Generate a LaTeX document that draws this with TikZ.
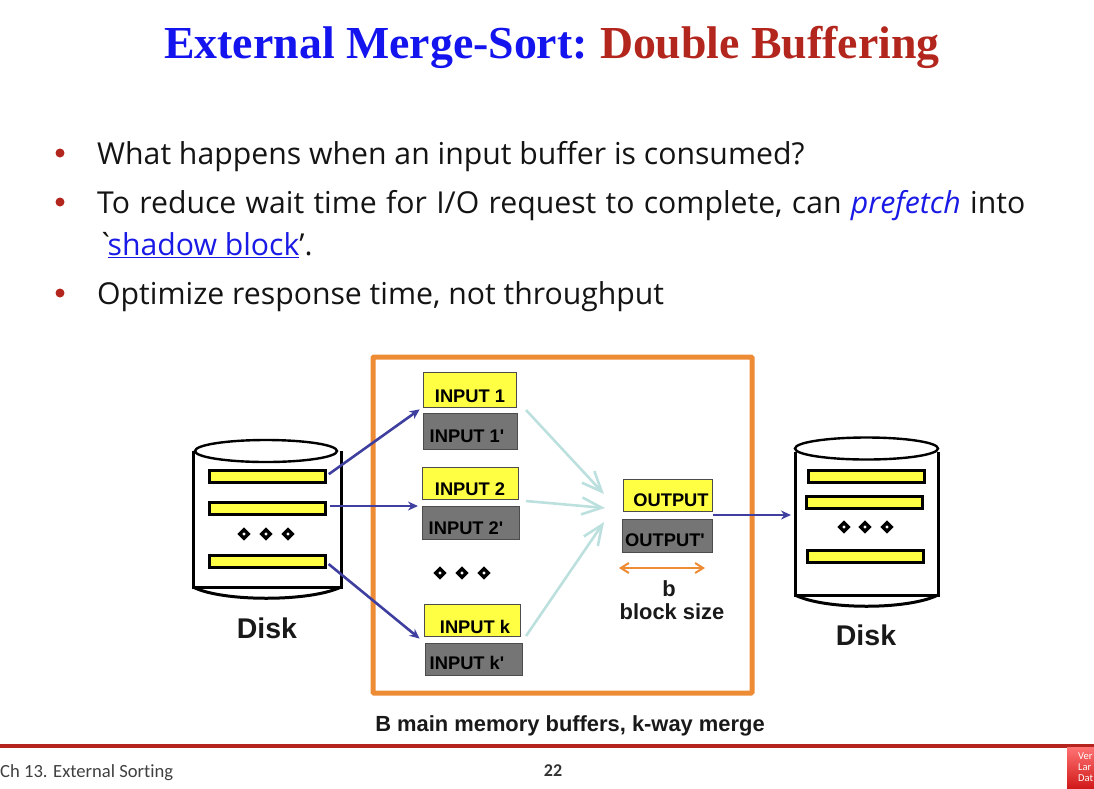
\documentclass[tikz,border=0pt]{standalone}
\usepackage{fontspec}
\setmainfont{Liberation Sans}
\newfontfamily\labelfont{Liberation Sans}
\newfontfamily\titlefont{Liberation Serif}
\newfontfamily\bodyfont{Open Sans}
\newfontfamily\footfont[Ligatures=NoCommon]{Carlito}
\usetikzlibrary{arrows.meta,positioning,shapes.geometric}
\definecolor{titleblue}{HTML}{1414EE}
\definecolor{titlered}{HTML}{B3261E}
\definecolor{linkblue}{HTML}{1A1AE6}
\definecolor{framecolor}{HTML}{EE8B35}
\definecolor{arrowblue}{HTML}{3F3FA0}
\definecolor{arrowteal}{HTML}{BCE0DE}
\definecolor{baryellow}{HTML}{FFFF44}
\definecolor{boxgray}{HTML}{757575}
\definecolor{rulered}{HTML}{B5241F}
\tikzset{
  slidetext/.style={anchor=base west,inner sep=0,font=\bodyfont\fontsize{30.2}{36}\selectfont,text=black!92},
  bulletdot/.style={circle,fill=titlered,inner sep=0,minimum size=9},
  bufbox/.style={draw=black!70,line width=0.9,inner sep=0,outer sep=0},
  boxlabel/.style={inner sep=0,font=\labelfont\bfseries\fontsize{18.3}{20}\selectfont,text=black},
  diskbar/.style={draw=black,line width=3,fill=baryellow,inner sep=0,outer sep=0,minimum width=116,minimum height=12},
  diskline/.style={line width=3,black},
  gapdot/.style={diamond,draw=black,fill=white,line width=3.4,inner sep=0,minimum size=10},
  readarrow/.style={-{Stealth[length=10,width=9]},line width=2.6,arrowblue,shorten >=4,shorten <=4},
  mergearrow/.style={-{Straight Barb[length=20,width=17,line width=2.6]},line width=2.6,arrowteal},
  biglabel/.style={inner sep=0,font=\labelfont\bfseries\fontsize{28.5}{30}\selectfont,text=black!90},
  notelabel/.style={inner sep=0,font=\labelfont\bfseries\fontsize{21.9}{24}\selectfont,text=black!90}
}
\begin{document}
\begin{tikzpicture}[x=1pt,y=-1pt]
  \useasboundingbox (0,0) rectangle (1094,788);
  \node[anchor=base,inner sep=0,font=\titlefont\bfseries\fontsize{45.8}{48}\selectfont] (title) at (552,58)
    {\textcolor{titleblue}{External Merge-Sort:}\kern-3pt{} \textcolor{titlered}{Double Buffering}};

  \node[bulletdot] (dot1) at (60,153) {};
  \node[bulletdot] (dot2) at (60,202) {};
  \node[bulletdot] (dot3) at (60,293) {};
  \node[slidetext] (line1) at (97,164) {What happens when an input buffer is consumed?};
  \node[slidetext] (line2) at (97,213) {\spaceskip=9.3pt To reduce wait time for I/O request to complete, can \textcolor{linkblue}{\itshape prefetch} into};
  \node[slidetext] (line3) at (97,255) {\symbol{96}\kern-7pt\textcolor{linkblue}{\underline{shadow block}}’.};
  \node[slidetext] (line4) at (97,304) {Optimize response time, not throughput};

  \node[draw=framecolor,line width=5,rounded corners=1,inner sep=0,minimum width=379,minimum height=336] (memory) at (562.5,525) {};

  \foreach \name/\cx/\cy/\w/\h/\fillc/\tx/\ty/\txt in {
    input1/469.5/389.5/93/35/baryellow/470/396/INPUT 1,
    input1p/470/431/94/36/boxgray/467/436/INPUT 1',
    input2/470/483/96/32/baryellow/470/489/INPUT 2,
    input2p/470.5/522.5/97/33/boxgray/466/528/INPUT 2',
    inputk/472/620/96/32/baryellow/475/627/INPUT k,
    inputkp/473.5/659/97/32/boxgray/467/663/INPUT k',
    output/667.5/495/89/32/baryellow/671/500/OUTPUT,
    outputp/667/535.5/90/33/boxgray/665/540/OUTPUT'} {
    \node[bufbox,fill=\fillc,minimum width=\w,minimum height=\h] (\name) at (\cx,\cy) {};
    \node[boxlabel] (\name text) at (\tx,\ty) {\txt};
  }

  \node[gapdot] (gapa) at (440,573) {};
  \node[gapdot] (gapb) at (462,573) {};
  \node[gapdot] (gapc) at (484,573) {};

  \draw[diskline] (193,451) -- (193,587) -- (341,587) -- (341,451);
  \node[ellipse,draw=black,line width=2.4,fill=white,minimum width=142,minimum height=22,inner sep=0] (disktop) at (266,451) {};
  \draw[diskline] (193,587) .. controls (222,602) and (310,602) .. (341,587);
  \node[diskbar] (barone) at (267.5,476.5) {};
  \node[diskbar] (bartwo) at (267.5,508.5) {};
  \node[diskbar] (barthree) at (267.5,561.5) {};
  \node[gapdot] (diskgapa) at (244,534) {};
  \node[gapdot] (diskgapb) at (266,534) {};
  \node[gapdot] (diskgapc) at (288,534) {};
  \node[biglabel] (disklabel) at (267,628) {Disk};

  \draw[diskline] (795,452) -- (795,595) -- (938,595) -- (938,452);
  \node[ellipse,draw=black,line width=2.4,fill=white,minimum width=143,minimum height=22,inner sep=0] (outdisktop) at (866.5,448.5) {};
  \draw[diskline] (795,595) .. controls (825,610) and (908,610) .. (938,595);
  \node[diskbar] (outbarone) at (866,476.5) {};
  \node[diskbar] (outbartwo) at (864,502) {};
  \node[diskbar] (outbarthree) at (865.5,556) {};
  \node[gapdot] (outgapa) at (844,527) {};
  \node[gapdot] (outgapb) at (865,527) {};
  \node[gapdot] (outgapc) at (887,527) {};
  \node[biglabel] (outdisklabel) at (866,635) {Disk};

  \draw[readarrow] (barone.east) -- (input1.south west);
  \draw[readarrow] (bartwo.east |- input2p.north west) -- (input2p.north west);
  \draw[readarrow,shorten >=7] (barthree.east) -- (inputkp.north west);

  \coordinate (mergetop) at (604,494);
  \coordinate (mergemid) at (605,508);
  \coordinate (mergelow) at (604,522);
  \draw[mergearrow] ([xshift=10pt,yshift=-3pt]input1.south east) -- (mergetop);
  \draw[mergearrow] ([xshift=8pt,yshift=-2pt]input2.south east) -- (mergemid);
  \draw[mergearrow] ([xshift=6pt]inputk.south east) -- (mergelow);

  \coordinate (outgap) at (713,515);
  \coordinate (diskin) at (791,515);
  \draw[-{Stealth[length=10,width=9]},line width=2.6,arrowblue] (outgap) -- (diskin);

  \coordinate (sizeleft) at (619,568);
  \coordinate (sizeright) at (705,568);
  \draw[{Straight Barb[length=8,width=10]}-{Straight Barb[length=8,width=10]},line width=2,framecolor] (sizeleft) -- (sizeright);
  \node[notelabel] (sizeb) at (669,589) {b};
  \node[notelabel] (sizetext) at (672,612) {block size};
  \node[notelabel] (caption) at (570,726) {B main memory buffers, k-way merge};

  \coordinate (ruleleft) at (0,746);
  \coordinate (ruleright) at (1094,746);
  \draw[line width=4,rulered] (ruleleft) -- (ruleright);
  \node[anchor=base west,inner sep=0,font=\footfont\fontsize{18.6}{20}\selectfont,text=black!75] (chapter) at (0,777) {Ch 13. External Sorting};
  \node[anchor=base,inner sep=0,font=\footfont\bfseries\fontsize{18}{20}\selectfont,text=black!80] (pagenum) at (553,776) {22};
  \node[anchor=north west,inner sep=0,outer sep=0,minimum width=27,minimum height=41,top color=red!55!white,bottom color=red!80!black!90] (logo) at (1067,747) {};
  \node[anchor=north west,inner sep=0,align=left,font=\footfont\fontsize{10.5}{11}\selectfont,text=white] (logotext) at (1078,753) {Ver\\Lar\\Dat};
\end{tikzpicture}
\end{document}
